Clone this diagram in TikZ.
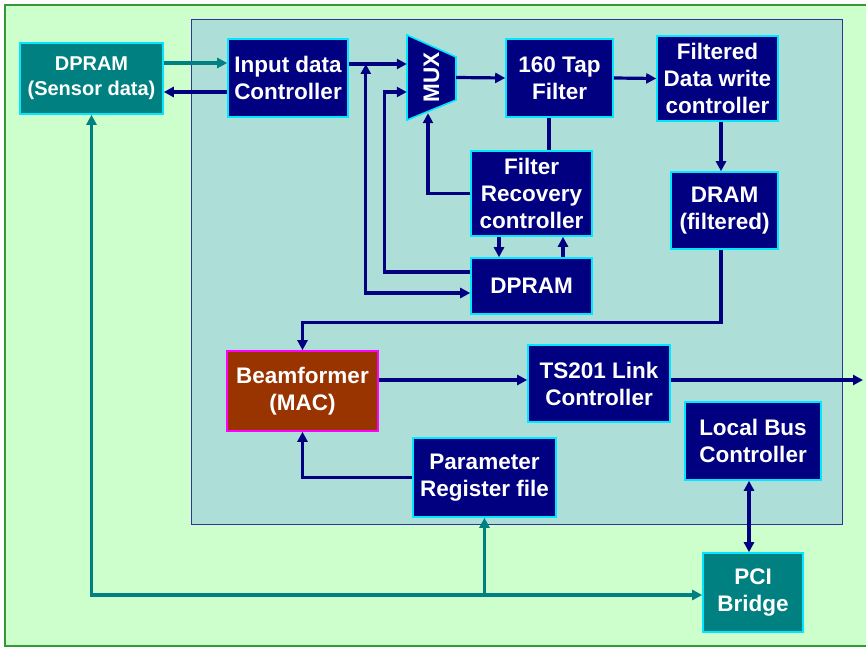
\documentclass[tikz,border=0pt]{standalone}
\usepackage{fontspec}
\setmainfont{Liberation Sans}
\usepackage{xcolor}
\usepackage{tikz}
\usetikzlibrary{arrows.meta}
\definecolor{bfnavy}{HTML}{000080}
\definecolor{bfcyan}{HTML}{00E8FF}
\definecolor{bfteal}{HTML}{008080}
\definecolor{bfbrown}{HTML}{993300}
\definecolor{bfpink}{HTML}{FF00FF}
\definecolor{bfback}{HTML}{CCFFCC}
\definecolor{bfframe}{HTML}{339933}
\definecolor{bfpanel}{HTML}{ADDFD8}
\definecolor{bfpanelline}{HTML}{333399}
\tikzset{%
  bfbox/.style={%
    draw=bfcyan,
    line width=1.6pt,
    fill=bfnavy,
    text=white,
    inner sep=0pt,
    align=center,
    font=\bfseries\fontsize{22.5}{27}\selectfont
  },
  bftealbox/.style={%
    bfbox,
    fill=bfteal
  },
  bfmacbox/.style={%
    bfbox,
    draw=bfpink,
    fill=bfbrown
  },
  bfmux/.style={%
    inner sep=0pt,
    text=white,
    minimum width=49pt,
    minimum height=85pt,
    font=\bfseries\fontsize{22.5}{27}\selectfont
  },
  bfarrow/.style={->,line width=3.2pt,draw=bfnavy},
  bfline/.style={line width=3.2pt,draw=bfnavy},
  bftealarrow/.style={->,line width=3.2pt,draw=bfteal},
  >={Triangle[length=10pt,width=10pt]}
}
\begin{document}
\begin{tikzpicture}[x=1pt,y=-1pt]
    \useasboundingbox (0,0) rectangle (866,647);
    % board and FPGA area
    \fill[bfback] (5,5) rectangle (866,646);
    \draw[bfframe,line width=2pt] (866,5) -- (5,5) -- (5,646) -- (866,646);
    \draw[bfpanelline,fill=bfpanel,line width=1pt] (191,20) rectangle (842,524);

    \node[bftealbox,minimum width=143pt,minimum height=71pt,font=\bfseries\fontsize{20}{25}\selectfont] (sensor) at (91.5,78.5) {DPRAM\\(Sensor data)};
    \node[bfbox,minimum width=120pt,minimum height=78pt] (input) at (288,78) {Input data\\Controller};
    \filldraw[fill=bfnavy,draw=bfcyan,line width=1.6pt] (407,35) -- (456,57) -- (456,100) -- (407,120) -- cycle;
    \node[bfmux] (mux) at (431.5,77.5) {\rotatebox{90}{MUX}};
    \node[bfbox,minimum width=107pt,minimum height=78pt] (tap) at (559.5,78) {160 Tap\\Filter};
    \node[bfbox,minimum width=121pt,minimum height=85pt] (fdw) at (717.5,78.5) {Filtered\\Data write\\controller};
    \node[bfbox,minimum width=121pt,minimum height=85pt] (rec) at (531.5,193.5) {Filter\\Recovery\\controller};
    \node[bfbox,minimum width=107pt,minimum height=77pt] (dram) at (724.5,210.5) {DRAM\\(filtered)};
    \node[bfbox,minimum width=121pt,minimum height=56pt] (dpram) at (531.5,286) {DPRAM};
    \node[bfmacbox,minimum width=151pt,minimum height=80pt] (mac) at (302.5,391) {Beamformer\\(MAC)};
    \node[bfbox,minimum width=142pt,minimum height=77pt] (link) at (599,383.5) {TS201 Link\\Controller};
    \node[bfbox,minimum width=143pt,minimum height=79pt] (param) at (484.5,477.5) {Parameter\\Register file};
    \node[bfbox,minimum width=136pt,minimum height=78pt] (lbus) at (753,441) {Local Bus\\Controller};
    \node[bftealbox,minimum width=100pt,minimum height=79pt] (pci) at (753,592.5) {PCI\\Bridge};
    \coordinate (out) at (863,380);

    \draw[bftealarrow] ([yshift=15.5pt]sensor.east) -- ([yshift=15.5pt]sensor.east -| input.west);
    \draw[bfarrow] ([yshift=-13.5pt]sensor.east -| input.west) -- ([yshift=-13.5pt]sensor.east);
    \draw[bfarrow] ([yshift=14pt]input.east) -- ([yshift=14pt]input.east -| mux.west);
    \draw[bfarrow,<->] ([xshift=17pt,yshift=14pt]input.east) |- ([yshift=-7pt]dpram.west);
    \draw[bfarrow] ([yshift=14pt]dpram.west) -| ([xshift=-22pt,yshift=-14.5pt]mux.west) -- ([yshift=-14.5pt]mux.west);
    \draw[bfarrow] (mux.east) -- (tap.west);
    \draw[bfarrow] (rec.west) -| ([xshift=-3.5pt,yshift=7pt]mux.south);
    \draw[bfline] ([xshift=-10.5pt]tap.south) -- ([xshift=17.5pt]rec.north);
    \draw[bfarrow] (tap.east) -- (fdw.west);
    \draw[bfarrow] ([xshift=3.5pt]fdw.south) -- ([xshift=3.5pt]fdw.south |- dram.north);
    \draw[bfarrow] ([xshift=-32.5pt]rec.south) -- ([xshift=-32.5pt]dpram.north);
    \draw[bfarrow] ([xshift=31.5pt]dpram.north) -- ([xshift=31.5pt]rec.south);
    \draw[bfarrow] ([xshift=-3.5pt]dram.south) |- ([yshift=28pt]mac.north) -- (mac.north);
    \draw[bfarrow] ([yshift=11pt]mac.east) -- ([yshift=11pt]mac.east -| link.west);
    \draw[bfarrow] (link.east |- out) -- (out);
    \draw[bfarrow] (param.west) -| (mac.south);
    \draw[bfarrow,<->] ([xshift=-4pt]lbus.south) -- ([xshift=-4pt]pci.north);
    \draw[bftealarrow,<->] (sensor.south) |- ([yshift=-2.5pt]pci.west);
    \draw[bftealarrow] ([yshift=-2.5pt]pci.west -| param.south) -- (param.south);
  \end{tikzpicture}
\end{document}
